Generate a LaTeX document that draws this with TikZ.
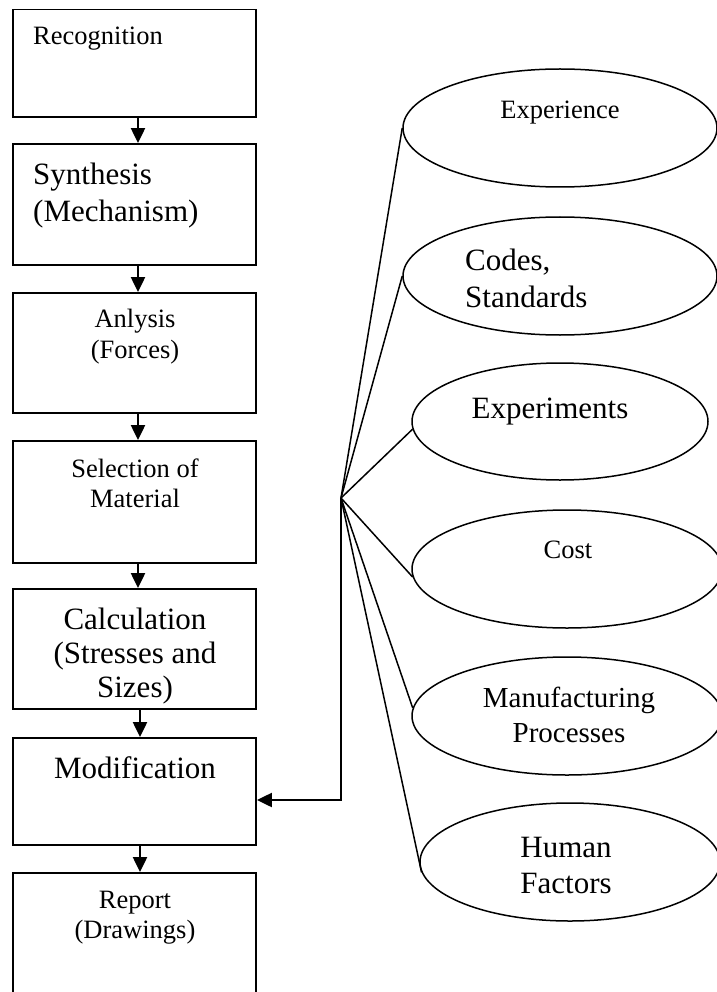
\documentclass[tikz,border=0pt]{standalone}
\usepackage{fontspec}
\setmainfont{Liberation Serif}
\usetikzlibrary{shapes.geometric,arrows.meta}
\newcommand\txtc[3]{{\fontsize{#1}{#2}\selectfont\begin{tabular}[t]{@{}c@{}}#3\end{tabular}}}
\newcommand\txtl[3]{{\fontsize{#1}{#2}\selectfont\begin{tabular}[t]{@{}l@{}}#3\end{tabular}}}
\begin{document}
\begin{tikzpicture}[x=1pt,y=-1pt,
  box/.style={draw, line width=1.9pt, minimum width=243pt, inner sep=0pt},
  ell/.style={draw, ellipse, line width=1.5pt, inner sep=0pt},
  txt/.style={inner sep=0pt, anchor=base},
  txtw/.style={inner sep=0pt, anchor=base west},
  arr/.style={line width=2.3pt, -{Triangle[length=15pt,width=14pt]}},
  conn/.style={line width=1.5pt}]
\useasboundingbox (0,0) rectangle (716,992);
% boxes
\node[box, minimum height=107.5pt] (b1) at (134.5,63.25) {};
\node[box, minimum height=121pt] (b2) at (134.5,204.5) {};
\node[box, minimum height=120pt] (b3) at (134.5,353) {};
\node[box, minimum height=122pt] (b4) at (134.5,502) {};
\node[box, minimum height=120pt] (b5) at (134.5,649) {};
\node[box, minimum height=107pt] (b6) at (134.5,791.5) {};
\node[box, minimum height=127pt] (b7) at (134.5,936.5) {};
% box texts
\node[txtw] (t1) at (33,45) {\txtl{26.5}{30.5}{Recognition}};
\node[txtw] (t2) at (33,185) {\txtl{31}{37}{Synthesis\\(Mechanism)}};
\node[txt] (t3) at (135,327) {\txtc{26.5}{31}{Anlysis\\(Forces)}};
\node[txt] (t4) at (135,477) {\txtc{26.5}{30}{Selection of\\Material}};
\node[txt] (t5) at (135,629) {\txtc{31}{34}{Calculation\\(Stresses and\\Sizes)}};
\node[txt] (t6) at (135,778) {\txtc{31}{34}{Modification}};
\node[txt] (t7) at (135,908) {\txtc{26.5}{30}{Report\\(Drawings)}};
% flow arrows
\coordinate (ax) at (138,0);
\coordinate (bx) at (140,0);
\draw[arr] (b1.south -| ax) -- (b2.north -| ax);
\draw[arr] (b2.south -| ax) -- (b3.north -| ax);
\draw[arr] (b3.south -| ax) -- (b4.north -| ax);
\draw[arr] (b4.south -| ax) -- (b5.north -| ax);
\draw[arr] (b5.south -| bx) -- (b6.north -| bx);
\draw[arr] (b6.south -| bx) -- (b7.north -| bx);
% ellipses
\node[ell, minimum width=314pt, minimum height=118pt] (e1) at (560,128) {};
\node[ell, minimum width=314pt, minimum height=118pt] (e2) at (560,276) {};
\node[ell, minimum width=296pt, minimum height=117pt] (e3) at (560,421.5) {};
\node[ell, minimum width=310pt, minimum height=118pt] (e4) at (567,569) {};
\node[ell, minimum width=310pt, minimum height=118pt] (e5) at (567,716) {};
\node[ell, minimum width=300pt, minimum height=118pt] (e6) at (570,862) {};
% ellipse texts
\node[txt] at (560,119) {\txtc{26.5}{30}{Experience}};
\node[txtw] at (465,270) {\txtl{31}{37}{Codes,\\Standards}};
\node[txt] at (550,418) {\txtc{31}{34}{Experiments}};
\node[txt] at (568,558) {\txtc{26.5}{30}{Cost}};
\node[txt] at (569,707) {\txtc{29}{35}{Manufacturing\\Processes}};
\node[txt] at (566,857) {\txtc{31}{36}{Human\\Factors}};
% hub and connectors
\coordinate (hub) at (341,498);
\coordinate (fb) at (341,800);
\draw[conn] (hub) -- (e1.west);
\draw[conn] (hub) -- (e2.west);
\draw[conn] (hub) -- (e3.183);
\draw[conn] (hub) -- (e4.183);
\draw[conn] (hub) -- (e5.177);
\draw[conn] (hub) -- (e6.184);
\draw[arr] (hub) -- (fb) -- (b6.east |- fb);
\end{tikzpicture}
\end{document}
